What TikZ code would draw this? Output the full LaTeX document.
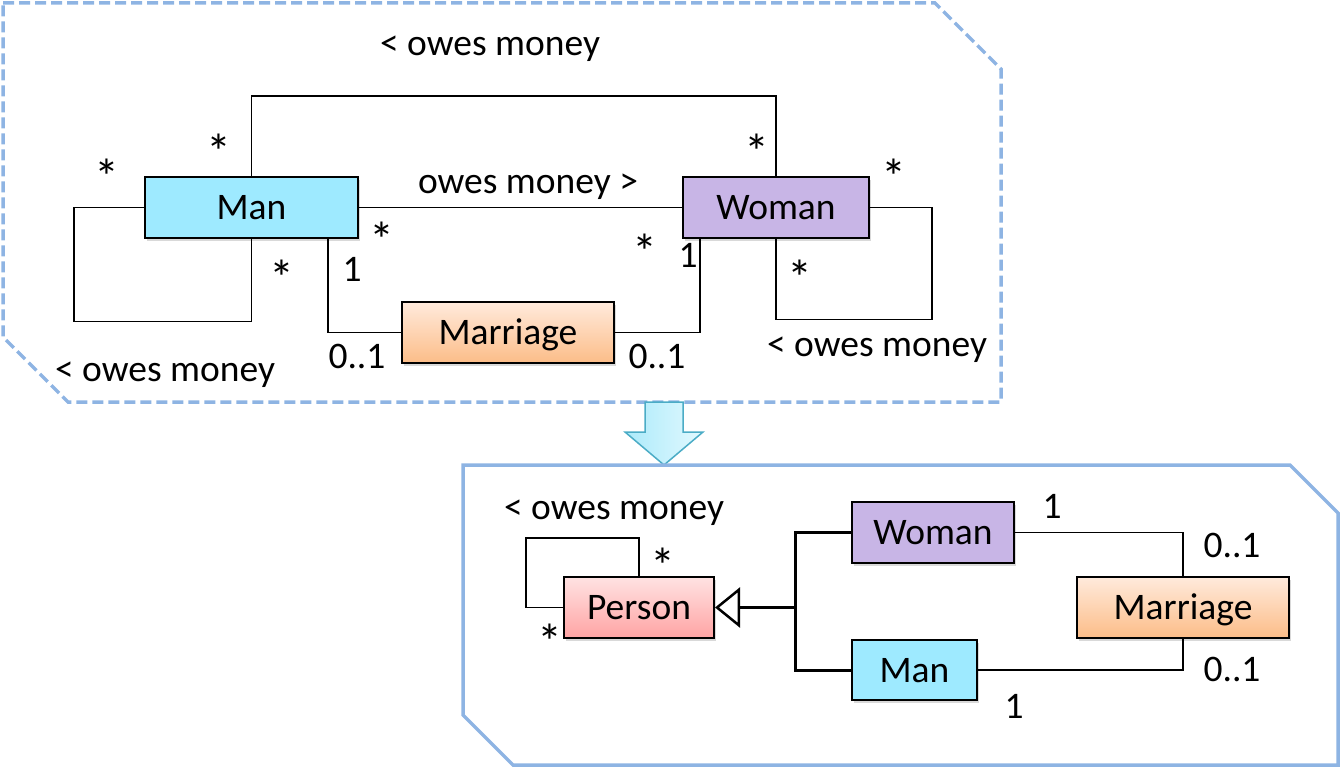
\documentclass[tikz,border=0pt]{standalone}
\usepackage{fontspec}
\setmainfont{Carlito}
\usetikzlibrary{arrows.meta,shadows}

\definecolor{mancol}{HTML}{9EEAFF}
\definecolor{womancol}{HTML}{C8B5E6}
\definecolor{martop}{HTML}{FFEADC}
\definecolor{marbot}{HTML}{FCBD88}
\definecolor{pertop}{HTML}{FFE2E2}
\definecolor{perbot}{HTML}{FFA4A4}
\definecolor{framecol}{HTML}{8EB4E3}
\definecolor{arrowline}{HTML}{4BACC6}
\definecolor{arrowleft}{HTML}{ACEAFA}
\definecolor{arrowright}{HTML}{E2F9FF}

\newcommand{\umlfont}{\fontsize{37.5}{45}\selectfont}
\newcommand{\starfont}{\fontsize{50}{50}\selectfont}

\tikzset{
  cls/.style={draw, line width=2pt, inner sep=0pt, text height=24pt, text depth=0pt,
    drop shadow={shadow xshift=2pt, shadow yshift=-3pt, opacity=.3}},
  assoc/.style={line width=1.5pt},
  mult/.style={anchor=base, inner sep=0pt},
  star/.style={anchor=base, inner sep=0pt, text depth=0pt, font=\starfont},
  inherit/.style={line width=3pt, -{Triangle[open, length=25pt, width=40pt, line width=2.5pt]}},
  frame/.style={draw=framecol, line width=3.5pt, line join=miter},
}

\begin{document}
\begin{tikzpicture}[x=1pt, y=-1pt, font=\umlfont]
            \useasboundingbox (0,0) rectangle (1341,767);

            % frames and the arrow between them
            \draw[frame, dash pattern=on 11pt off 5pt] (3,3) -- (935,3) -- (1001,69) -- (1001,402) -- (68,402) -- (3,337) -- cycle;
            \draw[draw=arrowline, line width=1.5pt, left color=arrowleft, right color=arrowright]
                (645,402) -- (683,402) -- (683,432) -- (703,432) -- (664,465) -- (625,432) -- (645,432) -- cycle;
            \draw[frame] (463,465) -- (1290,465) -- (1338,513) -- (1338,765) -- (513,765) -- (463,715) -- cycle;

            % upper model
            \draw (251.5,207.5) node[cls, fill=mancol, minimum width=213pt, minimum height=61pt] (man) {Man};
            \draw (776,207.5) node[cls, fill=womancol, minimum width=186pt, minimum height=61pt] (woman) {Woman};
            \draw (508,332.5) node[cls, top color=martop, bottom color=marbot, minimum width=212pt, minimum height=61pt] (mar) {Marriage};

            \draw[assoc] (man.north) -- ++(0,-80) -| (woman.north);
            \draw[assoc] (man.east) -- (woman.west);
            \draw[assoc] (man.west) -| ++(-70,114) -| (man.south);
            \draw[assoc] (woman.east) -| ++(62,112) -| (woman.south);
            \draw[assoc] ([xshift=-31pt]man.south east) |- (mar.west);
            \draw[assoc] (mar.east) -| ([xshift=18pt]woman.south west);

            \draw (490,56) node[mult] (owtop) {< owes money};
            \draw (528,194) node[mult] (owmid) {owes money >};
            \draw (165,381) node[mult] (owman) {< owes money};
            \draw (877,356) node[mult] (owwoman) {< owes money};

            \draw (107,195) node[star] (s1) {*};
            \draw (219,170) node[star] (s2) {*};
            \draw (382,258) node[star] (s3) {*};
            \draw (282,295) node[star] (s4) {*};
            \draw (757,170) node[star] (s5) {*};
            \draw (645,270) node[star] (s6) {*};
            \draw (894,195) node[star] (s7) {*};
            \draw (800,295) node[star] (s8) {*};

            \draw (352,282) node[mult] (m1) {1};
            \draw (357,368) node[mult] (m2) {0..1};
            \draw (688,268) node[mult] (m3) {1};
            \draw (657,368) node[mult] (m4) {0..1};

            % lower model
            \draw (639,607.5) node[cls, top color=pertop, bottom color=perbot, minimum width=150pt, minimum height=61pt] (person) {Person};
            \draw (933,532.5) node[cls, fill=womancol, minimum width=162pt, minimum height=61pt] (woman2) {Woman};
            \draw (914.5,670) node[cls, fill=mancol, minimum width=125pt, minimum height=60pt] (man2) {Man};
            \draw (1183,607.5) node[cls, top color=martop, bottom color=marbot, minimum width=212pt, minimum height=61pt] (mar2) {Marriage};

            \coordinate (junc) at (795,607.5);
            \draw[inherit] (junc) -- (person.east);
            \draw[line width=3pt] (woman2.west) -| (junc) |- (man2.west);
            \draw[assoc] (person.north) |- ++(-113,-38) |- (person.west);
            \draw[assoc] (woman2.east) -| (mar2.north);
            \draw[assoc] (man2.east) -| (mar2.south);

            \draw (614,519) node[mult] (owperson) {< owes money};
            \draw (663,583) node[star] (s9) {*};
            \draw (550,659) node[star] (s10) {*};
            \draw (1052,518) node[mult] (m5) {1};
            \draw (1232,557) node[mult] (m6) {0..1};
            \draw (1232,681) node[mult] (m7) {0..1};
            \draw (1014,718) node[mult] (m8) {1};
        \end{tikzpicture}
\end{document}
